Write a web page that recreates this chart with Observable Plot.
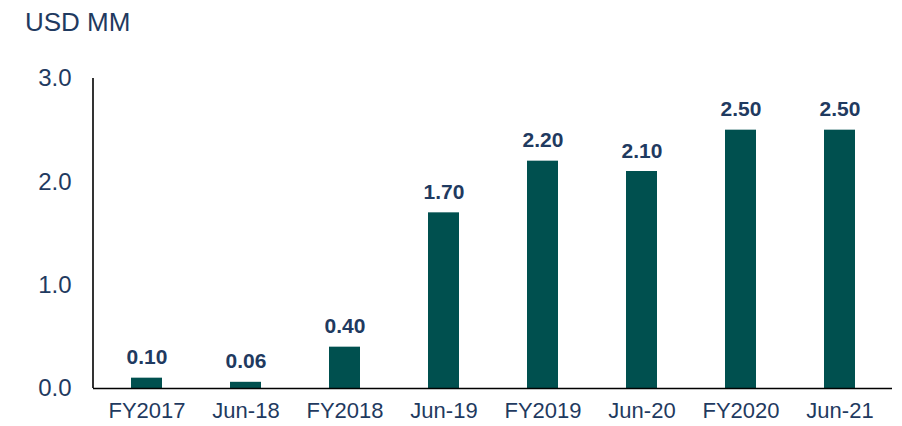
<!DOCTYPE html>
<html>
<head>
<meta charset="utf-8">
<script src="https://cdn.jsdelivr.net/npm/d3@7"></script>
<script src="https://cdn.jsdelivr.net/npm/@observablehq/plot@0.6"></script>
<style>
  html, body { margin: 0; padding: 0; background: #fff; }
  #wrap { position: relative; width: 902px; height: 426px; font-family: "Liberation Sans", Arial, sans-serif; }
  #title { position: absolute; left: 25px; top: 7px; font-size: 26px; color: #1F3A60; }
</style>
</head>
<body>
<div id="wrap"><div id="title">USD MM</div></div>
<script>
const categories = ["FY2017", "Jun-18", "FY2018", "Jun-19", "FY2019", "Jun-20", "FY2020", "Jun-21"];
const values = [0.10, 0.06, 0.40, 1.70, 2.20, 2.10, 2.50, 2.50];
const valueLabels = ["0.10", "0.06", "0.40", "1.70", "2.20", "2.10", "2.50", "2.50"];
const yTicks = [0, 1, 2, 3];
const yTickLabels = ["0.0", "1.0", "2.0", "3.0"];

const data = categories.map((c, i) => ({category: c, value: values[i], label: valueLabels[i]}));
const navy = "#1F3A60";
const teal = "#00504F";

const leftLine = (index, scales, values, dims) => {
  const ns = "http://www.w3.org/2000/svg";
  const l = document.createElementNS(ns, "line");
  l.setAttribute("x1", dims.marginLeft);
  l.setAttribute("x2", dims.marginLeft);
  l.setAttribute("y1", dims.marginTop);
  l.setAttribute("y2", dims.height - dims.marginBottom);
  l.setAttribute("stroke", "#000");
  l.setAttribute("stroke-width", 1.6);
  return l;
};

const chart = Plot.plot({
  width: 902,
  height: 426,
  marginLeft: 93,
  marginRight: 10,
  marginTop: 78,
  marginBottom: 38,
  style: {fontFamily: "'Liberation Sans', Arial, sans-serif", background: "transparent"},
  x: {domain: categories, paddingInner: 0.69, paddingOuter: 0.345, label: null},
  y: {domain: [0, 3], label: null},
  marks: [
    Plot.barY(data, {x: "category", y: "value", fill: teal}),
    Plot.text(data, {x: "category", y: "value", text: "label", lineAnchor: "bottom", dy: -14,
      fontSize: 21, fontWeight: "bold", fill: navy}),
    Plot.axisX({tickSize: 0, tickPadding: 14, fontSize: 22, color: navy, label: null}),
    Plot.axisY({ticks: yTicks, tickFormat: (d) => yTickLabels[yTicks.indexOf(d)], tickSize: 0, tickPadding: 22,
      fontSize: 24, color: navy, label: null}),
    Plot.ruleY([0], {stroke: "#000", strokeWidth: 1.6}),
    leftLine
  ]
});
document.getElementById("wrap").appendChild(chart);
</script>
</body>
</html>
